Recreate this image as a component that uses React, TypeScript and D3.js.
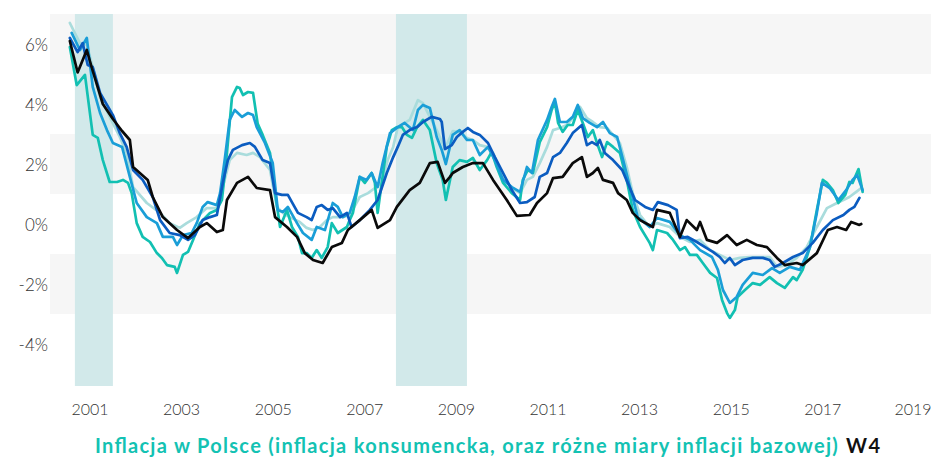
import React from 'react';
import * as d3 from 'd3';

const yTicks = [6, 4, 2, 0, -2, -4];
const xTickYears = [2001, 2003, 2005, 2007, 2009, 2011, 2013, 2015, 2017, 2019];
const bands: [number, number][] = [[5, 7], [1, 3], [-3, -1]];
const shaded: [number, number][] = [[2000.67, 2001.5], [2007.68, 2009.23]];
const titleMain = 'Inflacja w Polsce (inflacja konsumencka, oraz różne miary inflacji bazowej)';
const titleTag = 'W4';

const lightTeal: [number, number][] = [
  [2000.56, 6.7], [2000.78, 6.03], [2000.93, 5.97], [2001.06, 5.23], [2001.22, 4.23], [2001.43, 3.57],
  [2001.65, 2.9], [2001.8, 2.37], [2001.94, 1.23], [2002.24, 0.7], [2002.53, 0.37], [2002.74, 0.03],
  [2002.96, -0.13], [2003.11, 0.03], [2003.33, 0.23], [2003.55, 0.53], [2003.77, 0.53], [2003.9, 1.23],
  [2004.05, 2.13], [2004.21, 2.37], [2004.42, 2.3], [2004.56, 2.37], [2004.71, 2.23], [2004.93, 1.8],
  [2005.08, 0.57], [2005.21, 0.37], [2005.36, 0.23], [2005.58, 0.07], [2005.73, -0.13], [2005.87, -0.2],
  [2006.02, -0.1], [2006.17, 0.13], [2006.3, 0.23], [2006.52, 0.23], [2006.67, 0.3], [2006.89, 0.9],
  [2007.07, 1.03], [2007.22, 1.2], [2007.37, 1.37], [2007.5, 2.13], [2007.62, 2.57], [2007.72, 3.23],
  [2007.87, 3.37], [2007.98, 3.47], [2008.16, 4.13], [2008.27, 4.03], [2008.42, 3.57], [2008.57, 3.13],
  [2008.75, 2.5], [2008.92, 3.1], [2009.07, 3.07], [2009.23, 2.87], [2009.36, 2.8], [2009.51, 2.63],
  [2009.67, 2.57], [2009.8, 2.37], [2010.02, 1.57], [2010.21, 1.2], [2010.39, 1.03], [2010.54, 1.47],
  [2010.67, 1.57], [2010.82, 2.03], [2010.98, 2.57], [2011.11, 3.13], [2011.26, 3.2], [2011.41, 3.3],
  [2011.54, 3.53], [2011.7, 3.9], [2011.85, 3.53], [2011.98, 3.4], [2012.13, 3.23], [2012.29, 3.2],
  [2012.42, 2.97], [2012.57, 2.7], [2012.72, 1.9], [2012.85, 1.03], [2013.01, 0.3], [2013.22, -0.1],
  [2013.38, 0.03], [2013.66, -0.1], [2013.88, -0.43], [2014.1, -0.6], [2014.32, -0.53], [2014.54, -0.87],
  [2014.75, -1.03], [2014.97, -1.2], [2015.19, -1.13], [2015.41, -1.1], [2015.63, -1.1], [2015.84, -1.1],
  [2016.0, -1.43], [2016.21, -1.37], [2016.43, -1.13], [2016.65, -0.77], [2016.87, -0.1], [2017.09, 0.53],
  [2017.31, 0.7], [2017.45, 0.8], [2017.58, 0.9], [2017.73, 1.07], [2017.84, 1.2],
];

const teal: [number, number][] = [
  [2000.56, 5.9], [2000.71, 4.63], [2000.89, 4.97], [2001.06, 2.97], [2001.17, 2.87], [2001.28, 2.13],
  [2001.43, 1.4], [2001.59, 1.4], [2001.72, 1.47], [2001.83, 1.37], [2001.91, 1.03], [2002.02, 0.03],
  [2002.15, -0.43], [2002.31, -0.6], [2002.46, -0.97], [2002.57, -1.13], [2002.68, -1.37], [2002.85, -1.43],
  [2002.9, -1.63], [2003.03, -1.03], [2003.14, -0.93], [2003.25, -0.53], [2003.4, 0.03], [2003.62, 0.37],
  [2003.77, 0.47], [2003.88, 0.8], [2003.99, 2.37], [2004.1, 4.23], [2004.21, 4.57], [2004.27, 4.53],
  [2004.34, 4.3], [2004.45, 4.4], [2004.56, 4.37], [2004.66, 3.35], [2004.77, 2.97], [2004.93, 2.37],
  [2005.04, 1.03], [2005.15, -0.1], [2005.3, 0.47], [2005.41, -0.1], [2005.54, -0.43], [2005.63, -0.97],
  [2005.73, -0.97], [2005.84, -1.13], [2005.95, -0.87], [2006.06, -1.13], [2006.19, -0.77], [2006.28, 0.03],
  [2006.41, -0.3], [2006.61, -0.1], [2006.67, 0.13], [2006.74, 0.37], [2006.89, 1.57], [2007.0, 1.37],
  [2007.15, 1.7], [2007.22, 1.37], [2007.28, 0.37], [2007.37, 1.37], [2007.48, 2.57], [2007.59, 3.13],
  [2007.7, 3.23], [2007.81, 3.23], [2007.92, 2.97], [2008.03, 2.87], [2008.14, 3.23], [2008.27, 3.47],
  [2008.42, 3.13], [2008.57, 2.03], [2008.7, 1.47], [2008.77, 0.8], [2008.92, 1.9], [2009.07, 2.13],
  [2009.23, 2.07], [2009.36, 2.2], [2009.51, 1.8], [2009.67, 2.13], [2009.77, 2.4], [2009.88, 1.9],
  [2010.02, 1.37], [2010.21, 1.03], [2010.39, 0.8], [2010.45, 1.47], [2010.56, 1.8], [2010.67, 1.7],
  [2010.82, 2.73], [2010.98, 3.23], [2011.08, 3.8], [2011.15, 4.07], [2011.22, 3.37], [2011.32, 3.07],
  [2011.43, 3.3], [2011.54, 3.3], [2011.65, 3.8], [2011.76, 3.37], [2011.87, 2.9], [2011.98, 3.13],
  [2012.07, 2.7], [2012.18, 2.23], [2012.29, 2.73], [2012.42, 2.57], [2012.57, 2.37], [2012.72, 1.47],
  [2012.85, 0.47], [2013.01, -0.1], [2013.22, -0.63], [2013.29, -0.87], [2013.38, -0.2], [2013.6, -0.3],
  [2013.73, -0.53], [2013.88, -0.87], [2013.99, -0.77], [2014.1, -1.03], [2014.25, -1.03], [2014.38, -1.3],
  [2014.54, -1.63], [2014.69, -1.8], [2014.8, -2.53], [2014.91, -2.97], [2014.97, -3.13], [2015.08, -2.87],
  [2015.14, -2.43], [2015.3, -2.2], [2015.47, -1.97], [2015.63, -2.03], [2015.84, -1.77], [2016.0, -1.97],
  [2016.17, -2.13], [2016.35, -1.77], [2016.43, -1.87], [2016.56, -1.53], [2016.72, -0.77], [2016.87, 0.47],
  [2017.0, 1.47], [2017.09, 1.37], [2017.22, 1.13], [2017.34, 0.7], [2017.49, 0.97], [2017.58, 1.4],
  [2017.65, 1.37], [2017.78, 1.83], [2017.87, 1.07],
];

const midBlue: [number, number][] = [
  [2000.6, 6.37], [2000.78, 5.8], [2000.93, 6.2], [2001.06, 4.57], [2001.22, 3.7], [2001.37, 3.13],
  [2001.5, 2.7], [2001.7, 2.57], [2001.87, 1.57], [2002.02, 0.7], [2002.24, 0.23], [2002.46, 0.03],
  [2002.59, -0.43], [2002.81, -0.43], [2002.9, -0.7], [2003.03, -0.37], [2003.22, -0.3], [2003.33, 0.03],
  [2003.46, 0.57], [2003.57, 0.73], [2003.77, 0.63], [2003.84, 1.03], [2003.94, 2.13], [2004.05, 3.47],
  [2004.16, 3.8], [2004.32, 3.57], [2004.45, 3.7], [2004.56, 3.63], [2004.64, 3.23], [2004.82, 2.7],
  [2004.99, 2.03], [2005.1, 0.47], [2005.21, 0.4], [2005.32, 0.57], [2005.52, 0.03], [2005.65, -0.3],
  [2005.84, -0.53], [2005.95, -0.1], [2006.13, -0.2], [2006.3, 0.7], [2006.41, 0.57], [2006.52, 0.23],
  [2006.67, 0.37], [2006.78, 0.9], [2006.89, 1.57], [2007.04, 1.47], [2007.15, 1.7], [2007.28, 1.23],
  [2007.39, 2.03], [2007.55, 3.03], [2007.72, 3.23], [2007.87, 3.37], [2008.05, 3.13], [2008.16, 3.8],
  [2008.27, 3.97], [2008.42, 3.87], [2008.57, 2.9], [2008.68, 2.47], [2008.77, 2.0], [2008.92, 2.97],
  [2009.07, 3.13], [2009.23, 2.8], [2009.36, 2.8], [2009.51, 2.3], [2009.69, 2.57], [2009.84, 2.13],
  [2010.02, 1.47], [2010.21, 1.23], [2010.39, 1.07], [2010.54, 1.9], [2010.65, 1.7], [2010.78, 2.8],
  [2010.98, 3.47], [2011.08, 3.9], [2011.15, 4.17], [2011.26, 3.4], [2011.41, 3.4], [2011.54, 3.57],
  [2011.65, 3.97], [2011.76, 3.53], [2011.91, 3.37], [2012.07, 3.23], [2012.2, 3.4], [2012.35, 3.03],
  [2012.51, 2.9], [2012.64, 2.13], [2012.79, 1.23], [2012.96, 0.23], [2013.22, -0.1], [2013.38, 0.2],
  [2013.66, 0.07], [2013.88, -0.37], [2014.1, -0.53], [2014.32, -0.87], [2014.58, -1.1], [2014.71, -1.53],
  [2014.82, -2.2], [2014.97, -2.63], [2015.12, -2.43], [2015.25, -2.03], [2015.47, -1.63], [2015.69, -1.7],
  [2015.89, -1.47], [2016.06, -1.63], [2016.28, -1.43], [2016.5, -1.53], [2016.72, -0.77], [2016.87, 0.37],
  [2016.98, 1.37], [2017.15, 1.2], [2017.34, 0.8], [2017.51, 1.13], [2017.65, 1.47], [2017.75, 1.63],
  [2017.87, 1.13],
];

const darkBlue: [number, number][] = [
  [2000.56, 6.2], [2000.73, 5.73], [2000.84, 6.03], [2000.95, 5.3], [2001.06, 5.23], [2001.22, 4.37],
  [2001.5, 3.63], [2001.65, 3.03], [2001.8, 2.57], [2001.94, 1.8], [2002.15, 1.47], [2002.37, 0.9],
  [2002.53, 0.13], [2002.74, -0.3], [2002.96, -0.37], [2003.14, -0.53], [2003.29, -0.37], [2003.46, 0.13],
  [2003.62, 0.23], [2003.77, 0.3], [2003.9, 1.37], [2004.01, 2.13], [2004.12, 2.47], [2004.32, 2.63],
  [2004.49, 2.7], [2004.6, 2.57], [2004.77, 2.13], [2004.93, 2.03], [2005.04, 1.03], [2005.19, 0.97],
  [2005.32, 0.97], [2005.54, 0.37], [2005.73, 0.23], [2005.84, 0.13], [2005.95, 0.57], [2006.06, 0.63],
  [2006.19, 0.47], [2006.3, 0.53], [2006.46, 0.23], [2006.61, 0.37], [2006.71, -0.1], [2006.89, 0.13],
  [2007.11, 0.47], [2007.28, 0.8], [2007.48, 1.7], [2007.62, 2.23], [2007.72, 2.57], [2007.83, 2.97],
  [2007.98, 3.13], [2008.14, 3.23], [2008.27, 3.4], [2008.46, 3.57], [2008.64, 3.5], [2008.68, 3.4],
  [2008.75, 2.5], [2008.9, 2.63], [2009.01, 2.9], [2009.14, 3.07], [2009.25, 3.2], [2009.36, 3.07],
  [2009.51, 2.97], [2009.69, 2.7], [2009.84, 2.23], [2010.02, 1.7], [2010.21, 1.13], [2010.39, 0.7],
  [2010.54, 0.73], [2010.71, 0.9], [2010.82, 1.57], [2010.98, 1.7], [2011.11, 2.23], [2011.26, 2.37],
  [2011.41, 2.7], [2011.54, 3.03], [2011.74, 3.3], [2011.85, 2.63], [2011.96, 2.73], [2012.07, 2.63],
  [2012.13, 2.8], [2012.24, 2.37], [2012.42, 2.13], [2012.62, 1.8], [2012.74, 1.37], [2012.9, 0.8],
  [2013.12, 0.57], [2013.29, 0.47], [2013.4, 0.73], [2013.62, 0.63], [2013.81, 0.47], [2013.88, -0.47],
  [2014.05, -0.43], [2014.25, -0.6], [2014.43, -0.77], [2014.6, -0.93], [2014.75, -1.1], [2014.86, -1.3],
  [2014.97, -1.13], [2015.08, -1.37], [2015.25, -1.2], [2015.47, -1.13], [2015.69, -1.13], [2015.84, -1.2],
  [2015.95, -1.43], [2016.13, -1.3], [2016.35, -1.1], [2016.56, -0.97], [2016.78, -0.63], [2017.0, -0.2],
  [2017.22, 0.13], [2017.45, 0.3], [2017.58, 0.47], [2017.69, 0.57], [2017.8, 0.87],
];

const black: [number, number][] = [
  [2000.56, 6.1], [2000.73, 5.05], [2000.93, 5.8], [2001.06, 5.1], [2001.28, 4.0], [2001.5, 3.5],
  [2001.7, 3.1], [2001.87, 2.8], [2001.94, 1.9], [2002.26, 1.47], [2002.37, 0.9], [2002.59, 0.23],
  [2002.9, -0.2], [2003.14, -0.47], [2003.4, -0.1], [2003.55, 0.03], [2003.77, -0.27], [2003.9, -0.2],
  [2003.99, 0.8], [2004.21, 1.37], [2004.45, 1.57], [2004.64, 1.2], [2004.93, 1.13], [2005.04, 0.23],
  [2005.3, -0.1], [2005.52, -0.43], [2005.69, -0.97], [2005.87, -1.2], [2006.08, -1.3], [2006.28, -0.77],
  [2006.5, -0.63], [2006.63, -0.2], [2006.89, 0.13], [2007.15, 0.47], [2007.28, -0.13], [2007.55, 0.13],
  [2007.7, 0.57], [2007.98, 1.13], [2008.2, 1.37], [2008.42, 2.03], [2008.59, 2.07], [2008.75, 1.37],
  [2008.86, 1.57], [2008.92, 1.7], [2009.14, 1.9], [2009.36, 2.03], [2009.58, 2.03], [2009.8, 1.47],
  [2010.1, 0.8], [2010.32, 0.27], [2010.6, 0.3], [2010.76, 0.7], [2010.98, 1.03], [2011.11, 1.53],
  [2011.32, 1.57], [2011.54, 2.03], [2011.74, 2.23], [2011.85, 1.57], [2011.98, 1.7], [2012.09, 1.87],
  [2012.2, 1.47], [2012.42, 1.37], [2012.53, 1.03], [2012.72, 0.8], [2012.85, 0.37], [2013.01, 0.13],
  [2013.29, -0.1], [2013.38, 0.47], [2013.66, 0.37], [2013.88, -0.43], [2014.03, 0.13], [2014.25, -0.2],
  [2014.32, 0.07], [2014.47, -0.53], [2014.69, -0.63], [2014.91, -0.37], [2015.12, -0.7], [2015.34, -0.53],
  [2015.56, -0.7], [2015.78, -0.77], [2016.0, -1.13], [2016.17, -1.37], [2016.43, -1.3], [2016.56, -1.37],
  [2016.87, -0.97], [2017.11, -0.2], [2017.31, -0.1], [2017.51, -0.2], [2017.62, 0.07], [2017.8, -0.03],
  [2017.84, 0.0],
];

const seriesList = [
  { name: 'lightTeal', data: lightTeal, color: '#a9dcdc' },
  { name: 'teal', data: teal, color: '#12c0b2' },
  { name: 'midBlue', data: midBlue, color: '#1a9ed7' },
  { name: 'darkBlue', data: darkBlue, color: '#0b5cc0' },
  { name: 'black', data: black, color: '#0a0a0a' },
];

export default function App() {
  const W = 931;
  const H = 457;
  const x = d3.scaleLinear().domain([2001, 2019]).range([90, 914.4]);
  const y = d3.scaleLinear().domain([0, 6]).range([224, 44]);
  const line = d3
    .line<[number, number]>()
    .x((d) => x(d[0]))
    .y((d) => y(d[1]));
  const plotTop = y(7);
  const plotBottom = y(-5.4);

  return (
    <svg
      width={W}
      height={H}
      viewBox={`0 0 ${W} ${H}`}
      style={{ position: 'absolute', left: 0, top: 0, background: '#fff' }}
    >
      {bands.map(([a, b], i) => (
        <rect key={'b' + i} x={50} y={y(b)} width={W - 50} height={y(a) - y(b)} fill="#f6f6f6" />
      ))}
      {shaded.map(([a, b], i) => (
        <rect key={'s' + i} x={x(a)} y={plotTop} width={x(b) - x(a)} height={plotBottom - plotTop} fill="#d2e9ea" />
      ))}
      {seriesList.map((s) => (
        <path
          key={s.name}
          d={line(s.data) || ''}
          fill="none"
          stroke={s.color}
          strokeWidth={2.7}
          strokeLinejoin="round"
          strokeLinecap="round"
        />
      ))}
      {yTicks.map((t) => (
        <text
          key={'y' + t}
          x={48}
          y={y(t) + 2.5}
          textAnchor="end"
          dominantBaseline="middle"
          fontFamily="Lato, 'Open Sans', sans-serif"
          fontWeight={300}
          fontSize={17}
          fill="#333"
        >
          {t + '%'}
        </text>
      ))}
      {xTickYears.map((yr) => (
        <text
          key={'x' + yr}
          x={Math.min(x(yr), W - 18)}
          y={411}
          textAnchor="middle"
          dominantBaseline="middle"
          fontFamily="Lato, 'Open Sans', sans-serif"
          fontWeight={300}
          fontSize={16}
          fill="#333"
        >
          {yr}
        </text>
      ))}
      <text
        x={95}
        y={453}
        textAnchor="start"
        fontFamily="Lato, 'Open Sans', sans-serif"
        fontWeight={700}
        fontSize={20}
        textLength={785}
        lengthAdjust="spacing"
      >
        <tspan fill="#13c2b3">{titleMain}</tspan>
        <tspan fill="#111" dx={7}>{titleTag}</tspan>
      </text>
    </svg>
  );
}
